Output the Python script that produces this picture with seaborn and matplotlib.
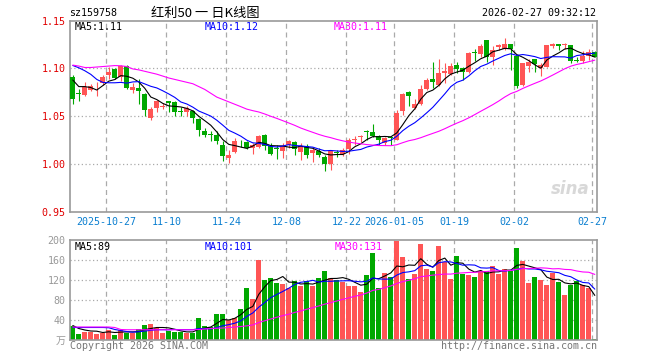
import matplotlib
matplotlib.use("Agg")
import matplotlib.pyplot as plt
import seaborn as sns
import pandas as pd

# 红利50 日K数据 (从参考图读取, 88 个交易日)
opens = [1.091, 1.0735, 1.0722, 1.0775, 1.0823, 1.0844, 1.0934, 1.0993, 1.0913, 1.1024,
         1.0774, 1.0795, 1.0729, 1.048, 1.0587, 1.060, 1.066, 1.0653, 1.0549, 1.0539,
         1.0556, 1.0473, 1.0348, 1.0306, 1.0306, 1.0202, 1.0063, 1.0126, 1.023, 1.0226,
         1.0167, 1.0178, 1.0306, 1.0191, 1.0163, 1.0132, 1.0202, 1.023, 1.0126, 1.0191,
         1.0115, 1.0133, 1.007, 1.0001, 1.0117, 1.0108, 1.016, 1.025, 1.0286, 1.0348,
         1.0337, 1.0296, 1.0219, 1.0273, 1.0254, 1.0556, 1.075, 1.0584, 1.0629, 1.0782,
         1.0889, 1.0826, 1.0948, 1.0938, 1.1035, 1.100, 1.0958, 1.1167, 1.1156, 1.1295,
         1.1121, 1.1225, 1.1208, 1.126, 1.1132, 1.0826, 1.1024, 1.1094, 1.100, 1.1017,
         1.1236, 1.126, 1.1243, 1.1243, 1.1087, 1.1083, 1.1135, 1.117]
highs = [1.093, 1.0785, 1.0854, 1.0833, 1.0861, 1.0931, 1.1017, 1.100, 1.1035, 1.1035,
         1.0844, 1.0885, 1.074, 1.060, 1.067, 1.0643, 1.066, 1.066, 1.0594, 1.0608,
         1.0566, 1.048, 1.0375, 1.0348, 1.0348, 1.0237, 1.0148, 1.0271, 1.0254, 1.0237,
         1.0219, 1.0306, 1.0313, 1.0219, 1.0202, 1.0219, 1.0254, 1.0244, 1.0219, 1.0212,
         1.0167, 1.0167, 1.0098, 1.015, 1.015, 1.0167, 1.0271, 1.0289, 1.0306, 1.0358,
         1.042, 1.0306, 1.0282, 1.0282, 1.0566, 1.074, 1.0764, 1.0677, 1.0826, 1.0896,
         1.1069, 1.1104, 1.1059, 1.1052, 1.1069, 1.1017, 1.1173, 1.1208, 1.1253, 1.1295,
         1.1232, 1.126, 1.1323, 1.126, 1.1132, 1.1059, 1.1104, 1.1104, 1.1052, 1.125,
         1.1267, 1.126, 1.1271, 1.1243, 1.1118, 1.1187, 1.1204, 1.118]
lows = [1.063, 1.0663, 1.0715, 1.0761, 1.0715, 1.0827, 1.0885, 1.0885, 1.0872, 1.0788,
        1.074, 1.0629, 1.0497, 1.0455, 1.0549, 1.0573, 1.0539, 1.0504, 1.0497, 1.0504,
        1.0434, 1.0296, 1.0282, 1.0244, 1.0212, 1.0029, 1.0011, 1.0115, 1.0178, 1.0157,
        1.0109, 1.0167, 1.0143, 1.0098, 1.0056, 1.0063, 1.0167, 1.0098, 1.0039, 1.0063,
        1.0018, 1.007, 0.9931, 0.9934, 1.007, 1.008, 1.0108, 1.0202, 1.0226, 1.0254,
        1.0282, 1.0202, 1.0202, 1.0202, 1.0247, 1.0514, 1.0611, 1.0573, 1.0618, 1.0775,
        1.0792, 1.0816, 1.0851, 1.0931, 1.0948, 1.0879, 1.0948, 1.1083, 1.1121, 1.107,
        1.1034, 1.119, 1.119, 1.0979, 1.0792, 1.0816, 1.0965, 1.0958, 1.0924, 1.101,
        1.1218, 1.119, 1.1201, 1.1059, 1.1066, 1.1059, 1.109, 1.1118]
closes = [1.068, 1.073, 1.081, 1.082, 1.083, 1.091, 1.0965, 1.0896, 1.1024, 1.0795,
          1.0809, 1.0764, 1.0566, 1.0573, 1.066, 1.0607, 1.0636, 1.0539, 1.0542, 1.0584,
          1.048, 1.0351, 1.0306, 1.0302, 1.0237, 1.0081, 1.0098, 1.0244, 1.0226, 1.0167,
          1.0202, 1.0296, 1.0185, 1.0108, 1.016, 1.0191, 1.0237, 1.0157, 1.0191, 1.0091,
          1.0143, 1.0098, 1.0004, 1.0133, 1.0115, 1.0143, 1.0254, 1.0254, 1.0289, 1.0337,
          1.0296, 1.0247, 1.0271, 1.0271, 1.0538, 1.0733, 1.0712, 1.0629, 1.0785, 1.0879,
          1.0861, 1.0955, 1.0976, 1.1028, 1.099, 1.0958, 1.1163, 1.1163, 1.1236, 1.1121,
          1.119, 1.1246, 1.126, 1.1208, 1.0819, 1.1052, 1.1069, 1.1042, 1.1035, 1.1243,
          1.126, 1.1236, 1.1246, 1.108, 1.1083, 1.1135, 1.117, 1.1125]

# 均线
ma5 = [1.0879, 1.081, 1.081, 1.080, 1.0774, 1.082, 1.0867, 1.0884, 1.0925, 1.0918,
       1.0898, 1.0858, 1.0792, 1.0701, 1.0674, 1.0634, 1.0608, 1.0603, 1.0597, 1.0582,
       1.0556, 1.0499, 1.0453, 1.0405, 1.0335, 1.0255, 1.0205, 1.0192, 1.0177, 1.0163,
       1.0187, 1.0227, 1.0215, 1.0192, 1.019, 1.0188, 1.0176, 1.0171, 1.0187, 1.0173,
       1.0164, 1.0136, 1.0105, 1.0094, 1.0099, 1.0099, 1.013, 1.018, 1.0211, 1.0255,
       1.0286, 1.0285, 1.0288, 1.0284, 1.0325, 1.0412, 1.0505, 1.0577, 1.0679, 1.0748,
       1.0773, 1.0822, 1.0891, 1.094, 1.0962, 1.0981, 1.1023, 1.106, 1.1102, 1.1128,
       1.1175, 1.1191, 1.1211, 1.1205, 1.1145, 1.1117, 1.1082, 1.1038, 1.1003, 1.1088,
       1.113, 1.1163, 1.1204, 1.1213, 1.1181, 1.1156, 1.1143, 1.1119]
ma10 = [1.1031, 1.1007, 1.0976, 1.0938, 1.0885, 1.0854, 1.085, 1.085, 1.0854, 1.0846,
        1.0859, 1.0862, 1.0838, 1.0813, 1.0796, 1.0766, 1.0733, 1.0697, 1.0649, 1.0628,
        1.0595, 1.0554, 1.0528, 1.0501, 1.0458, 1.0406, 1.0352, 1.0323, 1.0291, 1.0249,
        1.0221, 1.0216, 1.0204, 1.0184, 1.0177, 1.0188, 1.0202, 1.0193, 1.0189, 1.0182,
        1.0176, 1.0156, 1.0138, 1.0141, 1.0136, 1.0131, 1.0133, 1.0143, 1.0152, 1.0177,
        1.0192, 1.0207, 1.0234, 1.0248, 1.029, 1.0349, 1.0395, 1.0432, 1.0482, 1.0536,
        1.0593, 1.0663, 1.0734, 1.081, 1.0855, 1.0877, 1.0922, 1.0976, 1.1021, 1.1045,
        1.1078, 1.1107, 1.1136, 1.1154, 1.1136, 1.1146, 1.1136, 1.1124, 1.1104, 1.1116,
        1.1123, 1.1122, 1.1121, 1.1108, 1.1135, 1.1143, 1.1153, 1.1161]
ma30 = [1.1035, 1.1025, 1.101, 1.101, 1.1015, 1.102, 1.1025, 1.103, 1.1028, 1.102,
        1.0995, 1.0985, 1.097, 1.0955, 1.094, 1.092, 1.090, 1.0885, 1.087, 1.0855,
        1.084, 1.081, 1.078, 1.074, 1.070, 1.0675, 1.065, 1.0625, 1.060, 1.0574,
        1.0558, 1.0544, 1.0523, 1.0499, 1.0477, 1.0453, 1.0429, 1.0404, 1.0376, 1.0353,
        1.0331, 1.0309, 1.029, 1.0275, 1.0257, 1.0242, 1.0229, 1.0219, 1.0211, 1.0203,
        1.0197, 1.0193, 1.0192, 1.0191, 1.0201, 1.0223, 1.0243, 1.0256, 1.0275, 1.0298,
        1.032, 1.0342, 1.0369, 1.0399, 1.0427, 1.0453, 1.0483, 1.0517, 1.0552, 1.0586,
        1.0621, 1.0659, 1.0701, 1.0737, 1.076, 1.0791, 1.0818, 1.0844, 1.0869, 1.0899,
        1.0931, 1.0964, 1.0997, 1.1024, 1.1042, 1.1055, 1.1071, 1.1087]

# 成交量 (万手)
volume = [28, 13, 17, 17, 13, 15, 20, 10, 21, 15, 15, 23, 30, 32, 25, 15, 19, 16, 16, 15,
          15, 45, 28, 27, 52, 53, 40, 45, 63, 105, 83, 161, 121, 125, 115, 113, 105, 119, 108, 119,
          108, 125, 138, 125, 120, 116, 108, 108, 96, 130, 175, 104, 135, 127, 199, 167, 122, 132, 193, 143,
          138, 189, 156, 122, 168, 133, 130, 126, 138, 138, 148, 132, 143, 138, 185, 158, 115, 126, 120, 110,
          134, 117, 90, 110, 119, 110, 105, 2]
vol_ma5 = [29, 23, 20, 18, 17.6, 15, 16.4, 15, 15.8, 16.2, 16.2, 16.8, 20.8, 23, 25, 25, 24.2, 21.4, 18.2, 16.2,
           16.2, 21.4, 23.8, 26, 33.4, 41, 40, 43.4, 50.6, 61.2, 67.2, 91.4, 106.6, 119, 121, 127, 115.8, 115.4, 112, 112.8,
           111.8, 115.8, 119.6, 123, 123.2, 124.8, 121.4, 115.4, 109.6, 111.6, 123.4, 122.6, 128, 134.2, 148, 146.4, 150, 149.4, 162.6, 151.4,
           145.6, 159, 163.8, 149.6, 154.6, 153.6, 141.8, 135.8, 139, 133, 136, 136.4, 139.8, 139.8, 149.2, 151.2, 147.8, 144.4, 140.8, 125.8,
           121, 121.4, 114.2, 112.2, 114, 109.2, 106.8, 89.2]
vol_ma10 = [25, 25, 25, 25, 25, 25, 24.5, 21, 19, 16.9, 15.6, 16.6, 17.9, 19.4, 20.6, 20.6, 20.5, 21.1, 20.6, 20.6,
            20.6, 22.8, 22.6, 22.1, 24.8, 28.6, 30.7, 33.6, 38.3, 47.3, 54.1, 65.7, 75, 84.8, 91.1, 97.1, 103.6, 111, 115.5, 116.9,
            119.4, 115.8, 117.5, 117.5, 118, 118.3, 118.6, 117.5, 116.3, 117.4, 124.1, 122, 121.7, 121.9, 129.8, 134.9, 136.3, 138.7, 148.4, 149.7,
            146, 154.5, 156.6, 156.1, 153, 149.6, 150.4, 149.8, 144.3, 143.8, 144.8, 139.1, 137.8, 139.4, 141.1, 143.6, 142.1, 142.1, 140.3, 137.5,
            136.1, 134.6, 129.3, 126.5, 119.9, 115.1, 114.1, 101.7]
vol_ma30 = [26, 26, 26, 26, 26, 26, 26, 25, 21, 20.5, 20.5, 20.5, 20.5, 20.5, 20.5, 20.5, 20.5, 20.5, 20.5, 20.5,
            20.5, 21, 22, 23, 23.5, 24, 25, 26, 27, 28.3, 30.1, 35, 38.5, 42.1, 45.5, 48.8, 51.6, 55.2, 58.1, 61.6,
            64.7, 68.1, 71.7, 74.8, 78, 81.3, 84.3, 87.4, 90, 93.9, 99.2, 101.2, 104.7, 108.1, 113, 116.8, 119.5, 122.4, 126.7, 128,
            129.8, 130.8, 131.9, 131.8, 133.6, 134.3, 135.1, 135.3, 136.3, 137, 138.3, 138.5, 138.7, 139.1, 141.3, 142.7, 142.9, 143.5, 144.3, 143.7,
            142.3, 142.7, 141.2, 140.7, 138, 136.1, 135.5, 131.2]

# 日期刻度 (交易日序号)
tick_idx = [6, 16, 26, 36, 46, 54, 64, 74, 87]
tick_labels = ['2025-10-27', '11-10', '11-24', '12-08', '12-22', '2026-01-05', '01-19', '02-02', '02-27']
price_ticks = [0.95, 1.00, 1.05, 1.10, 1.15]
vol_ticks = [0, 40, 80, 120, 160, 200]
vol_tick_labels = ['万', '40', '80', '120', '160', '200']

RED = '#ff5555'
GREEN = '#00a800'
GRID = '#aaaaaa'
BORDER = '#999999'
MONO = 'DejaVu Sans Mono'
CJK = ['Noto Sans CJK SC', 'DejaVu Sans']

sns.set_theme(style='white')
plt.rcParams['font.family'] = [MONO, 'Noto Sans CJK SC']

df = pd.DataFrame({'open': opens, 'high': highs, 'low': lows, 'close': closes,
                   'ma5': ma5, 'ma10': ma10, 'ma30': ma30, 'vol': volume,
                   'vma5': vol_ma5, 'vma10': vol_ma10, 'vma30': vol_ma30})
df['x'] = range(len(df))
df['color'] = [RED if c > o else GREEN for o, c in zip(df['open'], df['close'])]

W, H = 660, 360
fig = plt.figure(figsize=(W / 100, H / 100), dpi=100)
fig.patch.set_facecolor('white')

def fx(px):
    return px / W

def fy(py):
    return 1 - py / H

ax = fig.add_axes([fx(70.3), fy(211.7), 527 / W, 191 / H])
axv = fig.add_axes([fx(70.3), fy(340), 527 / W, 100 / H])

bw = 5 / 6
xmin, xmax = -2.5 / 6, 87 + 3.5 / 6 - 0.17

for a in (ax, axv):
    a.set_facecolor('white')
    a.set_xlim(-bw / 2, len(df) - 1 + bw / 2)
    for s in a.spines.values():
        s.set_color(BORDER)
        s.set_linewidth(1.2)
    for i in tick_idx:
        a.axvline(i - bw / 2, color=GRID, lw=0.9, ls=(0, (4, 3)), zorder=0)

# K线
ax.set_ylim(0.95, 1.15)
for lv in [1.00, 1.05, 1.10]:
    ax.axhline(lv, color=GRID, lw=0.9, ls=(0, (1, 2)), zorder=0)
ax.vlines(df['x'], df['low'], df['high'], colors=df['color'], lw=0.8, zorder=2)
body_lo = df[['open', 'close']].min(axis=1)
body_h = (df['close'] - df['open']).abs().clip(lower=0.0008)
ax.bar(df['x'], body_h, bottom=body_lo, width=bw, color=df['color'], linewidth=0, zorder=3)

sns.lineplot(data=df, x='x', y='ma5', ax=ax, color='black', lw=0.8, zorder=4)
sns.lineplot(data=df, x='x', y='ma10', ax=ax, color='#0000ff', lw=0.8, zorder=4)
sns.lineplot(data=df, x='x', y='ma30', ax=ax, color='#ff00ff', lw=0.8, zorder=4)

ax.set_yticks(price_ticks)
ax.set_yticklabels([f'{t:.2f}' for t in price_ticks], color='#e00000', fontsize=7.2, family=MONO)
ax.set_xticks([i - bw / 2 for i in tick_idx])
ax.set_xticklabels(tick_labels, color='#0a7ed0', fontsize=7.2, family=MONO)
ax.tick_params(length=0, pad=3.5)
ax.set_xlabel('')
ax.set_ylabel('')

ax.text(fx(75 - 70.3) * W / 527, 1 - 6.5 / 191, 'MA5:1.11', transform=ax.transAxes,
        color='black', fontsize=7.2, va='center', family=MONO)
ax.text((205 - 70.3) / 527, 1 - 6.5 / 191, 'MA10:1.12', transform=ax.transAxes,
        color='#0000ff', fontsize=7.2, va='center', family=MONO)
ax.text((334 - 70.3) / 527, 1 - 6.5 / 191, 'MA30:1.11', transform=ax.transAxes,
        color='#ff00ff', fontsize=7.2, va='center', family=MONO)

# 新浪水印
ax.text(0.985, 0.07, 'sina', transform=ax.transAxes, ha='right', va='bottom',
        fontsize=12, fontweight='bold', style='italic', color='#d8d8d8', family='DejaVu Sans', zorder=1)

# 成交量
axv.set_ylim(0, 200)
for lv in [40, 80, 120, 160]:
    axv.axhline(lv, color=GRID, lw=0.9, ls=(0, (1, 2)), zorder=0)
axv.bar(df['x'], df['vol'], width=bw, color=df['color'], linewidth=0, zorder=2)
sns.lineplot(data=df, x='x', y='vma5', ax=axv, color='black', lw=0.8, zorder=4)
sns.lineplot(data=df, x='x', y='vma10', ax=axv, color='#0000ff', lw=0.8, zorder=4)
sns.lineplot(data=df, x='x', y='vma30', ax=axv, color='#ff00ff', lw=0.8, zorder=4)
axv.set_yticks(vol_ticks)
axv.set_yticklabels(vol_tick_labels, color=BORDER, fontsize=7.2, family=[MONO, 'Noto Sans CJK SC'])
axv.set_xticks([])
axv.tick_params(length=0, pad=3.5)
axv.set_xlabel('')
axv.set_ylabel('')

axv.text((75 - 70.3) / 527, 1 - 6.5 / 100, 'MA5:89', transform=axv.transAxes,
         color='black', fontsize=7.2, va='center', family=MONO)
axv.text((205 - 70.3) / 527, 1 - 6.5 / 100, 'MA10:101', transform=axv.transAxes,
         color='#0000ff', fontsize=7.2, va='center', family=MONO)
axv.text((335 - 70.3) / 527, 1 - 6.5 / 100, 'MA30:131', transform=axv.transAxes,
         color='#ff00ff', fontsize=7.2, va='center', family=MONO)

# 页眉与页脚
fig.text(fx(69), fy(13), 'sz159758', fontsize=7.2, va='center', family=MONO, color='black')
fig.text(fx(205), fy(13), '红利50 一 日K线图', fontsize=9.5, va='center', ha='center', family=CJK, color='black')
fig.text(fx(596), fy(13), '2026-02-27 09:32:12', fontsize=7.2, va='center', ha='right', family=MONO, color='black')
fig.text(fx(70), fy(346), 'Copyright 2026 SINA.COM', fontsize=7.2, va='center', family=MONO, color='#777777')
fig.text(fx(597), fy(346), 'http://finance.sina.com.cn', fontsize=7.2, va='center', ha='right', family=MONO, color='#777777')

fig.savefig('out.png', dpi=100, facecolor='white')
